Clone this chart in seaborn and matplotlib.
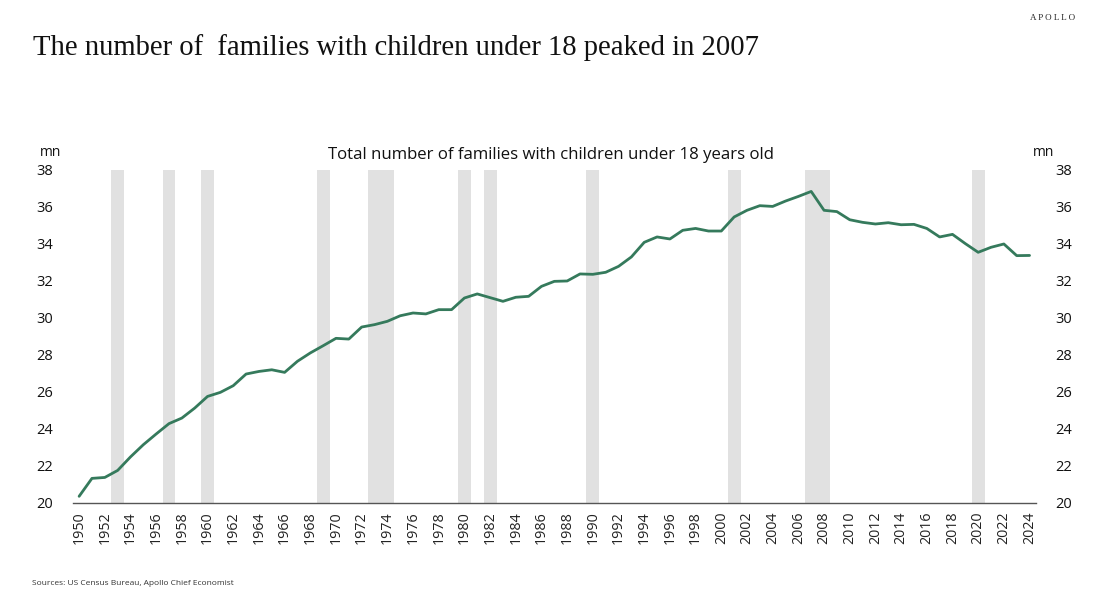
import matplotlib
matplotlib.use("Agg")
import matplotlib.pyplot as plt
import seaborn as sns
import pandas as pd
import numpy as np

years = list(range(1950, 2025))
families_mn = [
    20.36, 21.33, 21.38, 21.76, 22.49, 23.15, 23.73, 24.29, 24.59, 25.13,
    25.76, 25.98, 26.34, 26.97, 27.11, 27.20, 27.06, 27.66, 28.11, 28.50,
    28.90, 28.86, 29.51, 29.64, 29.82, 30.12, 30.27, 30.22, 30.45, 30.45,
    31.08, 31.30, 31.10, 30.90, 31.12, 31.17, 31.71, 31.98, 32.00, 32.38,
    32.36, 32.47, 32.79, 33.30, 34.09, 34.38, 34.27, 34.74, 34.84, 34.70,
    34.70, 35.46, 35.82, 36.07, 36.03, 36.32, 36.57, 36.84, 35.82, 35.75,
    35.31, 35.17, 35.08, 35.15, 35.04, 35.06, 34.84, 34.38, 34.52, 34.02,
    33.55, 33.82, 34.00, 33.37, 33.38,
]
recession_years = [1953, 1957, 1960, 1969, 1973, 1974, 1980, 1982, 1990,
                   2001, 2007, 2008, 2020]
y_ticks = [20, 22, 24, 26, 28, 30, 32, 34, 36, 38]

title = "The number of  families with children under 18 peaked in 2007"
subtitle = "Total number of families with children under 18 years old"
source = "Sources: US Census Bureau, Apollo Chief Economist"

sns.set_theme(style="white")
plt.rcParams["font.family"] = ["Open Sans", "DejaVu Sans"]

df = pd.DataFrame({"pos": np.arange(len(years)), "year": years, "value": families_mn})

fig = plt.figure(figsize=(10.98, 6.0), dpi=100)
ax = fig.add_axes([0.0662, 0.1617, 0.8773, 0.555])

for yr in recession_years:
    i = years.index(yr)
    ax.axvspan(i - 0.5, i + 0.5, color="#e1e1e1", lw=0, zorder=0)

sns.lineplot(data=df, x="pos", y="value", ax=ax, color="#357a5c", linewidth=2.0, zorder=3)

ax.set_xlim(-0.5, len(years) - 0.5)
ax.set_ylim(20, 38)
ax.set_xlabel("")
ax.set_ylabel("")

label_pos = list(range(0, len(years), 2))
ax.set_xticks(label_pos)
ax.set_xticklabels([str(years[i]) for i in label_pos], rotation=90, fontsize=10.3)
ax.set_xticks(np.arange(-0.5, len(years), 2), minor=True)
ax.tick_params(axis="x", which="major", length=0, pad=6, colors="#222222")
ax.tick_params(axis="x", which="minor", length=4, width=1, color="#555555", direction="out")
ax.set_yticks(y_ticks)
ax.set_yticklabels([str(v) for v in y_ticks], fontsize=10.5)
ax.tick_params(axis="y", length=0, pad=14, colors="#111111")

for s in ["top", "left", "right"]:
    ax.spines[s].set_visible(False)
ax.spines["bottom"].set_color("#555555")
ax.spines["bottom"].set_linewidth(1.0)

ax2 = ax.twinx()
ax2.set_ylim(20, 38)
ax2.set_yticks(y_ticks)
ax2.set_yticklabels([str(v) for v in y_ticks], fontsize=10.5)
ax2.tick_params(axis="y", length=0, pad=14, colors="#111111")
for s in ["top", "left", "right", "bottom"]:
    ax2.spines[s].set_visible(False)
ax2.grid(False)
ax.grid(False)

fig.text(0.0465, 0.745, "mn", fontsize=10, ha="center", va="center", color="#111111")
fig.text(0.950, 0.745, "mn", fontsize=10, ha="center", va="center", color="#111111")
fig.text(0.5015, 0.742, subtitle, fontsize=12.1, ha="center", va="center", color="#111111")

fig.text(0.030, 0.920, title, fontsize=20.6, ha="left", va="center",
         family=["Liberation Serif", "DejaVu Serif"], color="#111111")
fig.text(0.979, 0.970, "A P O L L O", fontsize=6.5, ha="right", va="center",
         family=["Liberation Serif", "DejaVu Serif"], color="#222222")
fig.text(0.029, 0.027, source, fontsize=6.05, ha="left", va="center", color="#333333")

fig.savefig("out.png", dpi=100, facecolor="white")
